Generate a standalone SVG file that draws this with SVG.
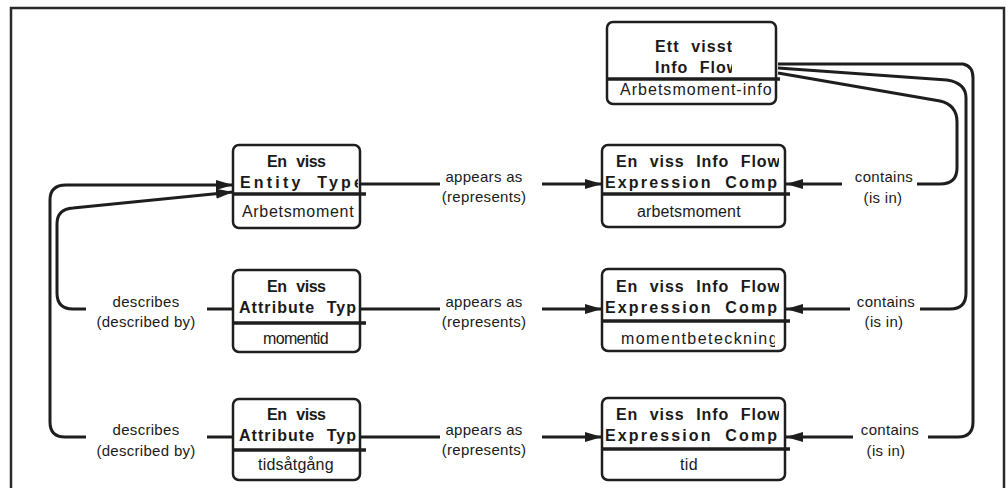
<svg xmlns="http://www.w3.org/2000/svg" width="1008" height="488" viewBox="0 0 1008 488">
  <defs>
    <style>
      .frame { fill: none; stroke: #2a2a2a; stroke-width: 2.5; }
      .box { fill: #ffffff; stroke: #1e1e1e; stroke-width: 2.5; }
      .div { stroke: #1e1e1e; stroke-width: 3.5; }
      .ttl { font-family: "Liberation Sans", Arial, sans-serif; font-weight: bold; font-size: 16px; letter-spacing: 1px; word-spacing: 6px; fill: #1a1a1a; }
      .val { font-family: "Liberation Sans", Arial, sans-serif; font-size: 16px; letter-spacing: 0.4px; fill: #1a1a1a; }
      .lbl { font-family: "Liberation Sans", Arial, sans-serif; font-size: 15px; letter-spacing: 0.3px; fill: #1a1a1a; text-anchor: middle; }
      .con { fill: none; stroke: #1e1e1e; stroke-width: 3; stroke-linejoin: round; }
    </style>
    <marker id="arrow" markerUnits="userSpaceOnUse" markerWidth="18" markerHeight="12" refX="17" refY="6" orient="auto">
      <path d="M0,1 L17,6 L0,11 z" fill="#1e1e1e"/>
    </marker>
    <clipPath id="clipT"><rect x="609" y="24" width="123" height="54"/></clipPath>
    <clipPath id="clipE"><rect x="235" y="147" width="123" height="46"/></clipPath>
    <clipPath id="clipA2"><rect x="235" y="272" width="123" height="50"/></clipPath>
    <clipPath id="clipA3"><rect x="235" y="401" width="123" height="48"/></clipPath>
    <clipPath id="clipI1"><rect x="604" y="147" width="175" height="46"/></clipPath>
    <clipPath id="clipI2"><rect x="604" y="271" width="175" height="49"/></clipPath>
    <clipPath id="clipI2b"><rect x="604" y="323" width="171" height="26"/></clipPath>
    <clipPath id="clipI3"><rect x="604" y="400" width="175" height="48"/></clipPath>
  </defs>

  <rect x="0" y="0" width="1008" height="488" fill="#ffffff"/>
  <path class="frame" d="M11,492 V8 H1004 V492"/>

  <!-- connectors -->
  <g id="connectors">
    <!-- appears as (represents) -->
    <path class="con" d="M360,184 H440"/>
    <path class="con" d="M542,184 H602" marker-end="url(#arrow)"/>
    <path class="con" d="M360,309 H440"/>
    <path class="con" d="M542,309 H602" marker-end="url(#arrow)"/>
    <path class="con" d="M360,437 H440"/>
    <path class="con" d="M542,437 H602" marker-end="url(#arrow)"/>

    <!-- contains (is in) -->
    <path class="con" d="M778,73 L940,101 Q957,105 957,122 V168 Q957,184 940,184 H917"/>
    <path class="con" d="M842,184 H786" marker-end="url(#arrow)"/>
    <path class="con" d="M778,68 L947,80 Q966,83 966,98 V293 Q966,309 950,309 H920"/>
    <path class="con" d="M850,309 H786" marker-end="url(#arrow)"/>
    <path class="con" d="M778,64 H963 Q973,66 973,78 V422 Q973,437 958,437 H928"/>
    <path class="con" d="M853,437 H786" marker-end="url(#arrow)"/>

    <!-- describes (described by) -->
    <path class="con" d="M233,309 H207"/>
    <path class="con" d="M86,309 H73 Q57,309 57,293 V224 Q57,209 73,208 L233,192" marker-end="url(#arrow)"/>
    <path class="con" d="M233,437 H207"/>
    <path class="con" d="M86,437 H65 Q50,437 50,422 V200 Q50,185 66,185 H233" marker-end="url(#arrow)"/>

    <!-- connector labels -->
    <text class="lbl" x="484" y="182">appears as</text>
    <text class="lbl" x="484" y="202">(represents)</text>
    <text class="lbl" x="484" y="307">appears as</text>
    <text class="lbl" x="484" y="327">(represents)</text>
    <text class="lbl" x="484" y="435">appears as</text>
    <text class="lbl" x="484" y="455">(represents)</text>

    <text class="lbl" x="884" y="182">contains</text>
    <text class="lbl" x="883" y="203">(is in)</text>
    <text class="lbl" x="886" y="307">contains</text>
    <text class="lbl" x="884" y="327">(is in)</text>
    <text class="lbl" x="890" y="435">contains</text>
    <text class="lbl" x="886" y="456">(is in)</text>

    <text class="lbl" x="146" y="307">describes</text>
    <text class="lbl" x="146" y="327">(described by)</text>
    <text class="lbl" x="146" y="435">describes</text>
    <text class="lbl" x="146" y="456">(described by)</text>
  </g>

  <!-- Ett visst Info Flow -->
  <g id="node-info-flow">
    <rect class="box" x="607" y="22" width="169" height="82" rx="6"/>
    <line class="div" x1="607" y1="79" x2="780" y2="79"/>
    <g clip-path="url(#clipT)">
      <text class="ttl" x="655" y="52" textLength="78" lengthAdjust="spacing">Ett visst</text>
      <text class="ttl" x="655" y="73">Info Flow</text>
    </g>
    <text class="val" x="620" y="95" textLength="152" lengthAdjust="spacing">Arbetsmoment-info</text>
  </g>

  <!-- En viss Entity Type -->
  <g id="node-entity-type">
    <rect class="box" x="233" y="145" width="127" height="83" rx="6"/>
    <line class="div" x1="233" y1="194" x2="366" y2="194"/>
    <g clip-path="url(#clipE)">
      <text class="ttl" x="267" y="167" textLength="60" lengthAdjust="spacing">En viss</text>
      <text class="ttl" x="240" y="188" textLength="124" lengthAdjust="spacing">Entity Type</text>
    </g>
    <text class="val" x="242" y="217" textLength="112" lengthAdjust="spacing">Arbetsmoment</text>
  </g>

  <!-- En viss Attribute Type (momentid) -->
  <g id="node-attribute-momentid">
    <rect class="box" x="233" y="270" width="127" height="82" rx="6"/>
    <line class="div" x1="233" y1="323" x2="366" y2="323"/>
    <g clip-path="url(#clipA2)">
      <text class="ttl" x="267" y="292" textLength="60" lengthAdjust="spacing">En viss</text>
      <text class="ttl" x="239" y="313" textLength="118" lengthAdjust="spacing">Attribute Typ</text>
    </g>
    <text class="val" x="263" y="344" textLength="66" lengthAdjust="spacing">momentid</text>
  </g>

  <!-- En viss Attribute Type (tidsåtgång) -->
  <g id="node-attribute-tidsatgang">
    <rect class="box" x="233" y="399" width="127" height="81" rx="6"/>
    <line class="div" x1="233" y1="450" x2="366" y2="450"/>
    <g clip-path="url(#clipA3)">
      <text class="ttl" x="267" y="420" textLength="60" lengthAdjust="spacing">En viss</text>
      <text class="ttl" x="239" y="441" textLength="118" lengthAdjust="spacing">Attribute Typ</text>
    </g>
    <text class="val" x="258" y="470" textLength="76" lengthAdjust="spacing">tidsåtgång</text>
  </g>

  <!-- En viss Info Flow Expression Comp (arbetsmoment) -->
  <g id="node-expr-arbetsmoment">
    <rect class="box" x="602" y="145" width="183" height="82" rx="6"/>
    <line class="div" x1="602" y1="194" x2="790" y2="194"/>
    <g clip-path="url(#clipI1)">
      <text class="ttl" x="616" y="167" textLength="165" lengthAdjust="spacing">En viss Info Flow</text>
      <text class="ttl" x="605" y="188" textLength="185" lengthAdjust="spacing">Expression Compo</text>
    </g>
    <text class="val" x="637" y="217" textLength="104" lengthAdjust="spacing">arbetsmoment</text>
  </g>

  <!-- En viss Info Flow Expression Comp (momentbeteckning) -->
  <g id="node-expr-momentbeteckning">
    <rect class="box" x="602" y="269" width="183" height="82" rx="6"/>
    <line class="div" x1="602" y1="321" x2="790" y2="321"/>
    <g clip-path="url(#clipI2)">
      <text class="ttl" x="616" y="292" textLength="165" lengthAdjust="spacing">En viss Info Flow</text>
      <text class="ttl" x="605" y="313" textLength="185" lengthAdjust="spacing">Expression Compo</text>
    </g>
    <g clip-path="url(#clipI2b)">
      <text class="val" x="621" y="344" textLength="157" lengthAdjust="spacing">momentbeteckning</text>
    </g>
  </g>

  <!-- En viss Info Flow Expression Comp (tid) -->
  <g id="node-expr-tid">
    <rect class="box" x="602" y="398" width="183" height="82" rx="6"/>
    <line class="div" x1="602" y1="449" x2="790" y2="449"/>
    <g clip-path="url(#clipI3)">
      <text class="ttl" x="616" y="420" textLength="165" lengthAdjust="spacing">En viss Info Flow</text>
      <text class="ttl" x="605" y="441" textLength="185" lengthAdjust="spacing">Expression Compo</text>
    </g>
    <text class="val" x="680" y="470" textLength="18" lengthAdjust="spacing">tid</text>
  </g>
</svg>
